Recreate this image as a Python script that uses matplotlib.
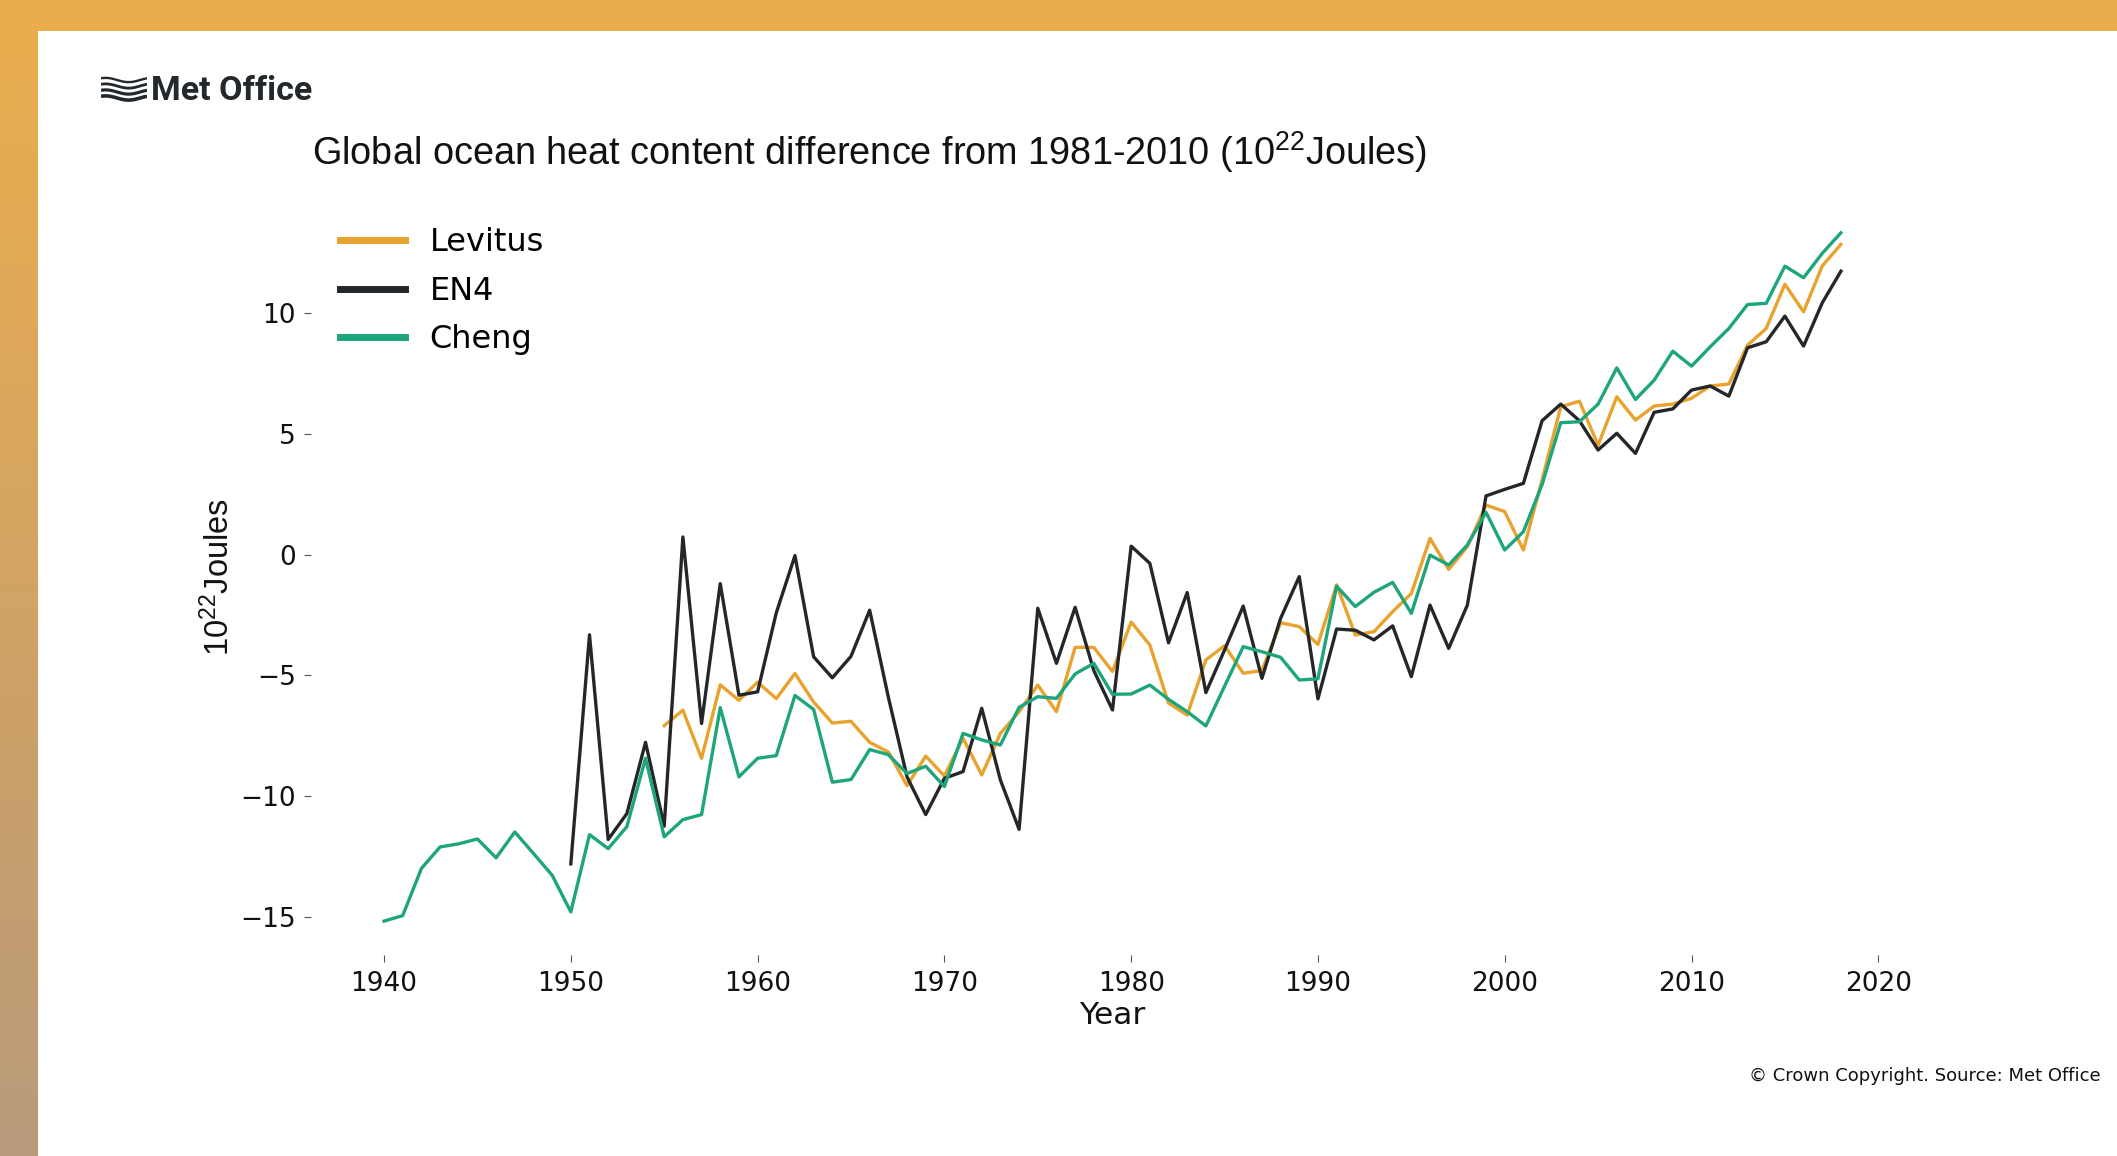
import matplotlib

matplotlib.use("Agg")

import matplotlib.pyplot as plt  # noqa: E402
import numpy as np  # noqa: E402
from matplotlib.colors import LinearSegmentedColormap  # noqa: E402
from matplotlib.patches import Rectangle  # noqa: E402

# ------------------------------------------------------------------
# Data (10^22 J, difference from 1981-2010)
# ------------------------------------------------------------------
cheng_years = np.arange(1940, 2019)
cheng = [
    -15.17, -14.94, -12.99, -12.10, -11.97, -11.77, -12.55, -11.48, -12.37, -13.27,
    -14.79, -11.59, -12.17, -11.26, -8.43, -11.68, -10.97, -10.76, -6.33, -9.20,
    -8.43, -8.32, -5.83, -6.41, -9.42, -9.31, -8.07, -8.28, -9.06, -8.76,
    -9.60, -7.40, -7.67, -7.88, -6.32, -5.88, -5.95, -4.94, -4.50, -5.78,
    -5.77, -5.40, -5.99, -6.50, -7.09, -5.45, -3.81, -4.02, -4.25, -5.19,
    -5.14, -1.31, -2.15, -1.56, -1.15, -2.43, -0.02, -0.43, 0.40, 1.75,
    0.19, 0.95, 2.90, 5.46, 5.50, 6.23, 7.73, 6.42, 7.22, 8.42,
    7.80, 8.60, 9.36, 10.35, 10.40, 11.94, 11.46, 12.47, 13.32,
]

en4_years = np.arange(1950, 2019)
en4 = [
    -12.80, -3.32, -11.79, -10.72, -7.77, -11.24, 0.73, -6.99, -1.20, -5.82,
    -5.68, -2.41, -0.04, -4.23, -5.10, -4.21, -2.30, -5.90, -9.20, -10.76,
    -9.26, -8.98, -6.36, -9.33, -11.37, -2.22, -4.50, -2.18, -4.80, -6.43,
    0.35, -0.36, -3.65, -1.57, -5.71, -3.95, -2.13, -5.12, -2.64, -0.91,
    -5.97, -3.08, -3.13, -3.53, -2.95, -5.05, -2.09, -3.88, -2.09, 2.43,
    2.70, 2.95, 5.54, 6.23, 5.54, 4.33, 5.02, 4.19, 5.89, 6.03,
    6.81, 6.98, 6.56, 8.56, 8.81, 9.87, 8.63, 10.42, 11.73,
]

levitus_years = np.arange(1955, 2019)
levitus = [
    -7.08, -6.44, -8.43, -5.39, -6.03,
    -5.28, -5.96, -4.92, -6.10, -6.97, -6.90, -7.77, -8.17, -9.56, -8.34,
    -9.16, -7.60, -9.12, -7.40, -6.50, -5.40, -6.50, -3.84, -3.84, -4.84,
    -2.79, -3.74, -6.15, -6.64, -4.36, -3.77, -4.91, -4.80, -2.82, -2.98,
    -3.72, -1.25, -3.33, -3.19, -2.36, -1.61, 0.67, -0.61, 0.33, 2.05,
    1.78, 0.19, 3.09, 6.12, 6.35, 4.53, 6.53, 5.57, 6.15, 6.23,
    6.47, 6.98, 7.06, 8.67, 9.36, 11.19, 10.05, 11.95, 12.84,
]

x_ticks = [1940, 1950, 1960, 1970, 1980, 1990, 2000, 2010, 2020]
y_ticks = [-15, -10, -5, 0, 5, 10]

LEVITUS_COLOR = "#E8A22E"
EN4_COLOR = "#24272A"
CHENG_COLOR = "#1DA57B"
TEXT_COLOR = "#111111"

W, H = 2117, 1156

plt.rcParams["mathtext.fontset"] = "custom"
plt.rcParams["mathtext.rm"] = "Liberation Sans"
plt.rcParams["mathtext.it"] = "Liberation Sans:italic"
plt.rcParams["mathtext.bf"] = "Liberation Sans:bold"

fig = plt.figure(figsize=(W / 100, H / 100), dpi=100)
fig.patch.set_facecolor("white")

# ------------------------------------------------------------------
# Frame: solid band on top, gradient band on the left
# ------------------------------------------------------------------
fig.patches.append(
    Rectangle((0, 1 - 31 / H), 1, 31 / H, transform=fig.transFigure,
              facecolor="#EAAD4D", edgecolor="none", zorder=0)
)
band_ax = fig.add_axes([0, 0, 38 / W, 1 - 31 / H])
band_cmap = LinearSegmentedColormap.from_list("band", ["#EAAD4D", "#B99A7B"])
band_ax.imshow(np.linspace(0, 1, 256).reshape(-1, 1), aspect="auto", cmap=band_cmap)
band_ax.set_axis_off()

# ------------------------------------------------------------------
# Met Office logo (wave glyph + wordmark)
# ------------------------------------------------------------------
logo_ax = fig.add_axes([101 / W, 1 - 104 / H, 46 / W, 30 / H])
t = np.linspace(0, 1, 60)
for k in range(4):
    logo_ax.plot(t, 0.2 + 0.2 * k + 0.07 * np.sin(2 * np.pi * (t + 0.15)),
                 color="#22282B", linewidth=2.6 - 0.3 * k, solid_capstyle="butt")
logo_ax.set_xlim(0, 1)
logo_ax.set_ylim(0, 1)
logo_ax.set_axis_off()

fig.text(151 / W, 1 - 91 / H, "Met Office", fontsize=24.5, fontweight="bold",
         family="Roboto", color="#22282B", va="center", ha="left")

# ------------------------------------------------------------------
# Main chart
# ------------------------------------------------------------------
ax = fig.add_axes([0.147, 0.1735, 0.757, 0.6548])
ax.plot(levitus_years, levitus, color=LEVITUS_COLOR, linewidth=2.4, label="Levitus")
ax.plot(en4_years, en4, color=EN4_COLOR, linewidth=2.4, label="EN4")
ax.plot(cheng_years, cheng, color=CHENG_COLOR, linewidth=2.4, label="Cheng")

ax.set_xlim(1936.1, 2021.9)
ax.set_ylim(-16.59, 14.74)
ax.set_xticks(x_ticks)
ax.set_yticks(y_ticks)
for side in ("top", "right", "bottom", "left"):
    ax.spines[side].set_visible(False)
ax.tick_params(axis="both", labelsize=19, colors="#555555", labelcolor=TEXT_COLOR,
               length=5, width=0.8, pad=6)

ax.set_xlabel("Year", fontsize=22.5, color=TEXT_COLOR, labelpad=3)
ax.set_ylabel("10$^{22}$Joules", fontsize=23.5, family="Liberation Sans",
              color=TEXT_COLOR, labelpad=3)

leg = ax.legend(loc="upper left", frameon=False, fontsize=23, handlelength=2.05,
                handletextpad=0.75, labelspacing=0.55)
for line in leg.get_lines():
    line.set_linewidth(5)

fig.text(312 / W, 1 - 152 / H,
         "Global ocean heat content difference from 1981-2010 (10$^{22}$Joules)",
         fontsize=27.3, family="Liberation Sans", color=TEXT_COLOR,
         ha="left", va="center")

fig.text(2101 / W, 1 - 1076 / H, "\u00a9 Crown Copyright. Source: Met Office",
         fontsize=13, color=TEXT_COLOR, ha="right", va="center")

fig.savefig("out.png", dpi=100)
plt.close(fig)
